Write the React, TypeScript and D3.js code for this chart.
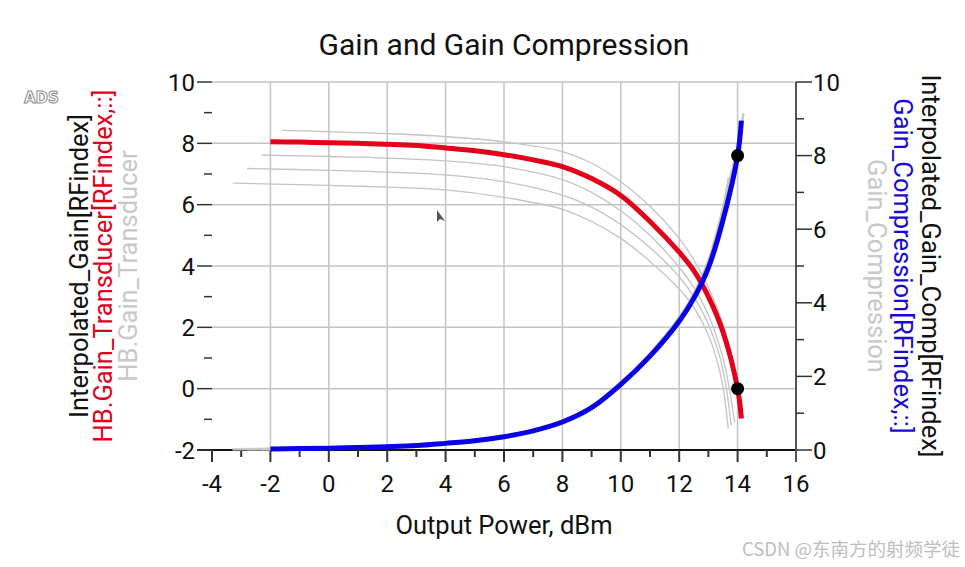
import React from "react";
import * as d3 from "d3";

// ---- data ----
const xTicks = [-4, -2, 0, 2, 4, 6, 8, 10, 12, 14, 16];
const leftTicks = [-2, 0, 2, 4, 6, 8, 10];
const rightTicks = [0, 2, 4, 6, 8, 10];

const mainX = [-2, -1, 0, 1, 2, 3, 4, 5, 6, 7, 8, 9, 10, 11, 12, 12.5, 13, 13.5, 14, 14.13];
const gainRed = [8.05, 8.04, 8.02, 8.0, 7.97, 7.93, 7.85, 7.76, 7.63, 7.46, 7.24, 6.85, 6.3, 5.45, 4.45, 3.85, 3.0, 1.85, 0.0, -0.97];
const compBlue = [0.03, 0.04, 0.05, 0.07, 0.09, 0.12, 0.18, 0.25, 0.36, 0.52, 0.76, 1.15, 1.78, 2.55, 3.5, 4.12, 4.95, 6.25, 8.0, 8.95];

const grayGainA_x = [-1.6, 0, 2, 4, 6, 8, 9, 10, 11, 12, 12.5, 13, 13.5, 14, 14.15];
const grayGainA_y = [8.42, 8.38, 8.32, 8.22, 8.05, 7.73, 7.35, 6.75, 5.95, 4.9, 4.2, 3.3, 2.1, 0.2, -0.8];
const grayGainB_x = [-2.3, 0, 2, 4, 6, 8, 9, 10, 11, 12, 12.5, 13, 13.5, 13.7, 13.9];
const grayGainB_y = [7.62, 7.57, 7.52, 7.43, 7.24, 6.82, 6.4, 5.8, 5.0, 3.95, 3.3, 2.4, 1.0, 0.1, -1.1];
const grayGainC_x = [-2.8, 0, 2, 4, 6, 8, 9, 10, 11, 12, 12.5, 13, 13.4, 13.6, 13.78];
const grayGainC_y = [7.18, 7.12, 7.06, 6.97, 6.75, 6.31, 5.92, 5.35, 4.6, 3.65, 3.0, 2.1, 1.0, 0.1, -1.2];
const grayGainD_x = [-3.3, 0, 2, 4, 6, 8, 9, 10, 11, 12, 12.5, 13, 13.3, 13.5, 13.68];
const grayGainD_y = [6.7, 6.63, 6.57, 6.48, 6.24, 5.85, 5.45, 4.9, 4.15, 3.25, 2.65, 1.75, 0.9, 0.05, -1.3];

const grayCompA_x = [-1.6, 0, 2, 4, 6, 8, 9, 10, 11, 12, 12.5, 13, 13.5, 14, 14.2];
const grayCompA_y = [0.02, 0.05, 0.1, 0.18, 0.36, 0.78, 1.17, 1.8, 2.58, 3.6, 4.25, 5.1, 6.4, 8.2, 9.15];
const grayCompB_x = [-2.3, 0, 2, 4, 6, 8, 9, 10, 11, 12, 12.5, 13, 13.5, 13.9];
const grayCompB_y = [0.02, 0.05, 0.1, 0.19, 0.37, 0.78, 1.17, 1.8, 2.58, 3.55, 4.17, 5.05, 6.4, 7.9];
const grayCompC_x = [-2.8, 0, 2, 4, 6, 8, 9, 10, 11, 12, 12.5, 13, 13.5, 13.8];
const grayCompC_y = [0.02, 0.05, 0.1, 0.19, 0.37, 0.79, 1.18, 1.82, 2.6, 3.58, 4.2, 5.1, 6.5, 7.6];
const grayCompD_x = [-3.3, 0, 2, 4, 6, 8, 9, 10, 11, 12, 12.5, 13, 13.5, 13.7];
const grayCompD_y = [0.02, 0.05, 0.1, 0.19, 0.37, 0.8, 1.19, 1.84, 2.62, 3.6, 4.24, 5.15, 6.6, 7.4];

const markerX = [14, 14];
const markerY = [0.0, 8.0]; // first on left axis (gain), second on right axis (compression)

const title = "Gain and Gain Compression";
const xTitle = "Output Power, dBm";
const leftTitles = ["Interpolated_Gain[RFindex]", "HB.Gain_Transducer[RFindex,::]", "HB.Gain_Transducer"];
const rightTitles = ["Interpolated_Gain_Comp[RFindex]", "Gain_Compression[RFindex,::]", "Gain_Compression"];

const FONT = "Roboto, 'Noto Sans', Arial, sans-serif";

export default function App() {
  const W = 965, H = 567;
  const x = d3.scaleLinear().domain([-4, 16]).range([212, 796]);
  const yL = d3.scaleLinear().domain([-2, 10]).range([450, 82]);
  const yR = d3.scaleLinear().domain([0, 10]).range([450, 82]);

  const mk = (xs: number[], ys: number[], ys2: d3.ScaleLinear<number, number>) =>
    d3.line<number>().x((_, i) => x(xs[i])).y((d) => ys2(d)).curve(d3.curveCatmullRom.alpha(0.5))(ys) || "";

  const grayGains = [
    [grayGainA_x, grayGainA_y],
    [grayGainB_x, grayGainB_y],
    [grayGainC_x, grayGainC_y],
    [grayGainD_x, grayGainD_y],
  ];
  const grayComps = [
    [grayCompA_x, grayCompA_y],
    [grayCompB_x, grayCompB_y],
    [grayCompC_x, grayCompC_y],
    [grayCompD_x, grayCompD_y],
  ];

  const gridColor = "#c4c4c4";
  const axisColor = "#333";
  const xMinor = d3.range(-3, 16, 2);
  const lMinor = d3.range(-1, 10, 2);
  const rMinor = d3.range(1, 10, 2);
  const [x0, x1] = x.range();
  const cy = (yL.range()[0] + yL.range()[1]) / 2;

  return (
    <svg width={W} height={H} style={{ position: "absolute", left: 0, top: 0, background: "#fff" }} fontFamily={FONT}>
      <rect x={0} y={0} width={W} height={H} fill="#fff" />
      {/* grid */}
      {xTicks.filter((t) => t > -4 && t < 16).map((t) => (
        <line key={"gx" + t} x1={x(t)} x2={x(t)} y1={yL(10)} y2={yL(-2)} stroke={gridColor} strokeWidth={1.5} />
      ))}
      {leftTicks.filter((t) => t > -2).map((t) => (
        <line key={"gy" + t} x1={x0} x2={x1} y1={yL(t)} y2={yL(t)} stroke={gridColor} strokeWidth={1.5} />
      ))}
      {/* bottom axis */}
      <line x1={197} x2={x1} y1={yL(-2)} y2={yL(-2)} stroke="#111" strokeWidth={2} />
      {xTicks.map((t) => (
        <line key={"xt" + t} x1={x(t)} x2={x(t)} y1={yL(-2)} y2={yL(-2) + 12} stroke={axisColor} strokeWidth={2} />
      ))}
      {xMinor.map((t) => (
        <line key={"xm" + t} x1={x(t)} x2={x(t)} y1={yL(-2)} y2={yL(-2) + 7} stroke={axisColor} strokeWidth={2} />
      ))}
      {xTicks.map((t) => (
        <text key={"xl" + t} x={x(t)} y={492} fontSize={24} textAnchor="middle" fill="#111">{t}</text>
      ))}
      {/* left ticks */}
      {leftTicks.map((t) => (
        <line key={"lt" + t} x1={x0 - 15} x2={x0} y1={yL(t)} y2={yL(t)} stroke={axisColor} strokeWidth={1.5} />
      ))}
      {lMinor.map((t) => (
        <line key={"lm" + t} x1={x0 - 8} x2={x0} y1={yL(t)} y2={yL(t)} stroke={axisColor} strokeWidth={1.5} />
      ))}
      {leftTicks.map((t) => (
        <text key={"ll" + t} x={x0 - 17} y={yL(t)} dy="0.36em" fontSize={24} textAnchor="end" fill="#111">{t}</text>
      ))}
      {/* right axis */}
      <line x1={x1} x2={x1} y1={yR(10)} y2={yL(-2) + 12} stroke="#555" strokeWidth={2} />
      {rightTicks.map((t) => (
        <line key={"rt" + t} x1={x1} x2={x1 + 16} y1={yR(t)} y2={yR(t)} stroke={axisColor} strokeWidth={1.5} />
      ))}
      {rMinor.map((t) => (
        <line key={"rm" + t} x1={x1} x2={x1 + 8} y1={yR(t)} y2={yR(t)} stroke={axisColor} strokeWidth={1.5} />
      ))}
      {rightTicks.map((t) => (
        <text key={"rl" + t} x={x1 + 17} y={yR(t)} dy="0.36em" fontSize={24} textAnchor="start" fill="#111">{t}</text>
      ))}

      {/* gray family curves */}
      {grayComps.map(([xs, ys], i) => (
        <path key={"gc" + i} d={mk(xs, ys, yR)} fill="none" stroke="#c8c8c8" strokeWidth={2.5} />
      ))}
      {grayGains.map(([xs, ys], i) => (
        <path key={"gg" + i} d={mk(xs, ys, yL)} fill="none" stroke="#c4c4c4" strokeWidth={1.3} />
      ))}
      {/* main curves */}
      <path d={mk(mainX, gainRed, yL)} fill="none" stroke="#e3001b" strokeWidth={5} />
      <path d={mk(mainX, compBlue, yR)} fill="none" stroke="#0a00e6" strokeWidth={5} />
      {/* markers */}
      <circle cx={x(markerX[0])} cy={yL(markerY[0])} r={6.5} fill="#000" />
      <circle cx={x(markerX[1])} cy={yR(markerY[1])} r={6.5} fill="#000" />

      {/* titles */}
      <text x={(x0 + x1) / 2} y={55} fontSize={30} textAnchor="middle" fill="#111">{title}</text>
      <text x={(x0 + x1) / 2} y={534} fontSize={25.5} textAnchor="middle" fill="#111">{xTitle}</text>
      <text transform={`translate(88,${cy}) rotate(-90)`} fontSize={25.5} textAnchor="middle" fill="#111">{leftTitles[0]}</text>
      <text transform={`translate(112,${cy}) rotate(-90)`} fontSize={25.5} textAnchor="middle" fill="#e0001a">{leftTitles[1]}</text>
      <text transform={`translate(137,${cy}) rotate(-90)`} fontSize={25.5} textAnchor="middle" fill="#c8c8c8">{leftTitles[2]}</text>
      <text transform={`translate(922,${cy}) rotate(90)`} fontSize={25.5} textAnchor="middle" fill="#111">{rightTitles[0]}</text>
      <text transform={`translate(894,${cy}) rotate(90)`} fontSize={25.5} textAnchor="middle" fill="#1a0ad0">{rightTitles[1]}</text>
      <text transform={`translate(868,${cy}) rotate(90)`} fontSize={25.5} textAnchor="middle" fill="#c8c8c8">{rightTitles[2]}</text>

      {/* ADS label */}
      <text x={24} y={103} fontSize={15} fill="#fff" stroke="#8a8a8a" strokeWidth={1} fontWeight="bold" fontFamily="'DejaVu Sans', sans-serif">ADS</text>
      {/* cursor */}
      <path d="M437,210 L437,222 L440,219 L445,221 Z" fill="#555" />
      {/* watermark */}
      <text x={960} y={556} fontSize={18.5} textAnchor="end" fill="#bdbdbd" fontFamily="'Noto Sans CJK SC', 'Noto Sans', sans-serif">CSDN @东南方的射频学徒</text>
    </svg>
  );
}
